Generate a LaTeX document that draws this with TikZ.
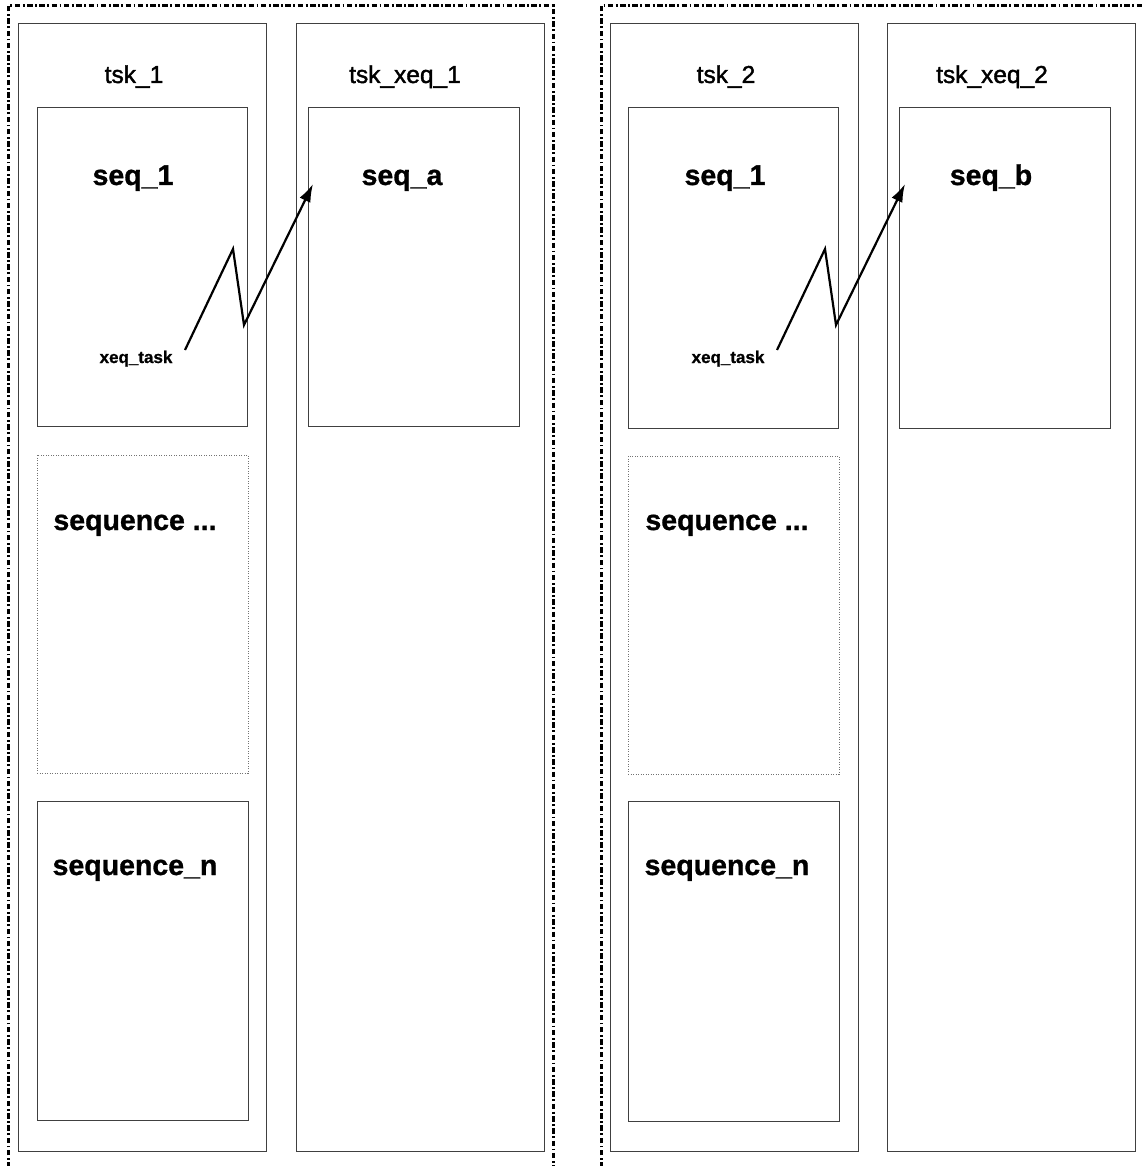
\documentclass[tikz,border=0pt]{standalone}
\usepackage{fontspec}
\setmainfont{Liberation Sans}
\newfontfamily\titlefont[FakeBold=1.6]{Liberation Sans}
\newfontfamily\heavyfont[FakeBold=1]{Liberation Sans Bold}
\usetikzlibrary{arrows.meta}
\begin{document}
\begin{tikzpicture}[x=1pt,y=-1pt,
  col/.style={draw=black!75, line width=0.9pt, anchor=north west, inner sep=0pt, outer sep=0pt, minimum width=248pt, minimum height=1128pt},
  seqbox/.style={draw=black!75, line width=0.9pt, anchor=north west, inner sep=0pt, outer sep=0pt, minimum width=211pt, minimum height=319pt},
  dotbox/.style={seqbox, draw=black!55, dash pattern=on 1pt off 1.5pt, line width=0.9pt},
  outerline/.style={line width=3pt, dash pattern=on 5.5pt off 2.5pt on 1.8pt off 2.5pt},
  coltitle/.style={anchor=base, inner sep=0pt, font=\fontsize{24.5}{29}\titlefont},
  bigtext/.style={anchor=base, inner sep=0pt, font=\fontsize{28.5}{34}\heavyfont},
  smalltext/.style={anchor=base, inner sep=0pt, font=\fontsize{17}{20}\heavyfont},
  link/.style={line width=2.2pt, line join=miter, -{Latex[length=18pt,width=12pt]}}
]
\path[use as bounding box] (0,0) rectangle (1143,1166);
\clip (0,0) rectangle (1143,1166);

% outer dash-dot frames
\draw[outerline] (8,1180) -- (8,6) -- (553,6) -- (553,1180);
\draw[outerline] (601,1180) -- (601,6) -- (1160,6);

% columns
\node[col] (tsk1) at (18,23) {};
\node[col] (txeq1) at (296,23) {};
\node[col] (tsk2) at (610,23) {};
\node[col] (txeq2) at (887,23) {};

% left group boxes
\node[seqbox, minimum width=210pt] (seq1L) at (37,107) {};
\node[seqbox] (seqa) at (308,107) {};
\node[dotbox, minimum height=318pt] (seqdotsL) at (37,455) {};
\node[seqbox] (seqnL) at (37,801) {};

% right group boxes
\node[seqbox, minimum width=210pt, minimum height=321pt] (seq1R) at (628,107) {};
\node[seqbox, minimum height=321pt] (seqb) at (899,107) {};
\node[dotbox, minimum height=318pt] (seqdotsR) at (628,456) {};
\node[seqbox, minimum height=320pt] (seqnR) at (628,801) {};

% titles
\node[coltitle] (t1) at (134,83) {tsk\_1};
\node[coltitle] (tx1) at (405,83) {tsk\_xeq\_1};
\node[coltitle] (t2) at (726,83) {tsk\_2};
\node[coltitle] (tx2) at (992,83) {tsk\_xeq\_2};

% big labels
\node[bigtext] (l1) at (133,185) {seq\_1};
\node[bigtext] (la) at (402,185) {seq\_a};
\node[bigtext] (r1) at (725,185) {seq\_1};
\node[bigtext] (rb) at (991,185) {seq\_b};
\node[bigtext] (ldots) at (135,530) {sequence ...};
\node[bigtext] (rdots) at (727,530) {sequence ...};
\node[bigtext] (ln) at (135,875) {sequence\_n};
\node[bigtext] (rn) at (727,875) {sequence\_n};

% xeq_task labels
\node[smalltext] (xl) at (136,363) {xeq\_task};
\node[smalltext] (xr) at (728,363) {xeq\_task};

% zigzag connectors
\coordinate (xls) at (185,350);
\coordinate (xla) at (233,249);
\coordinate (xlb) at (244,325);
\coordinate (xlt) at (313,184);
\draw[link] (xls) -- (xla) -- (xlb) -- (xlt);

\coordinate (xrs) at (777,350);
\coordinate (xra) at (825,249);
\coordinate (xrb) at (836,325);
\coordinate (xrt) at (905,184);
\draw[link] (xrs) -- (xra) -- (xrb) -- (xrt);
\end{tikzpicture}
\end{document}
